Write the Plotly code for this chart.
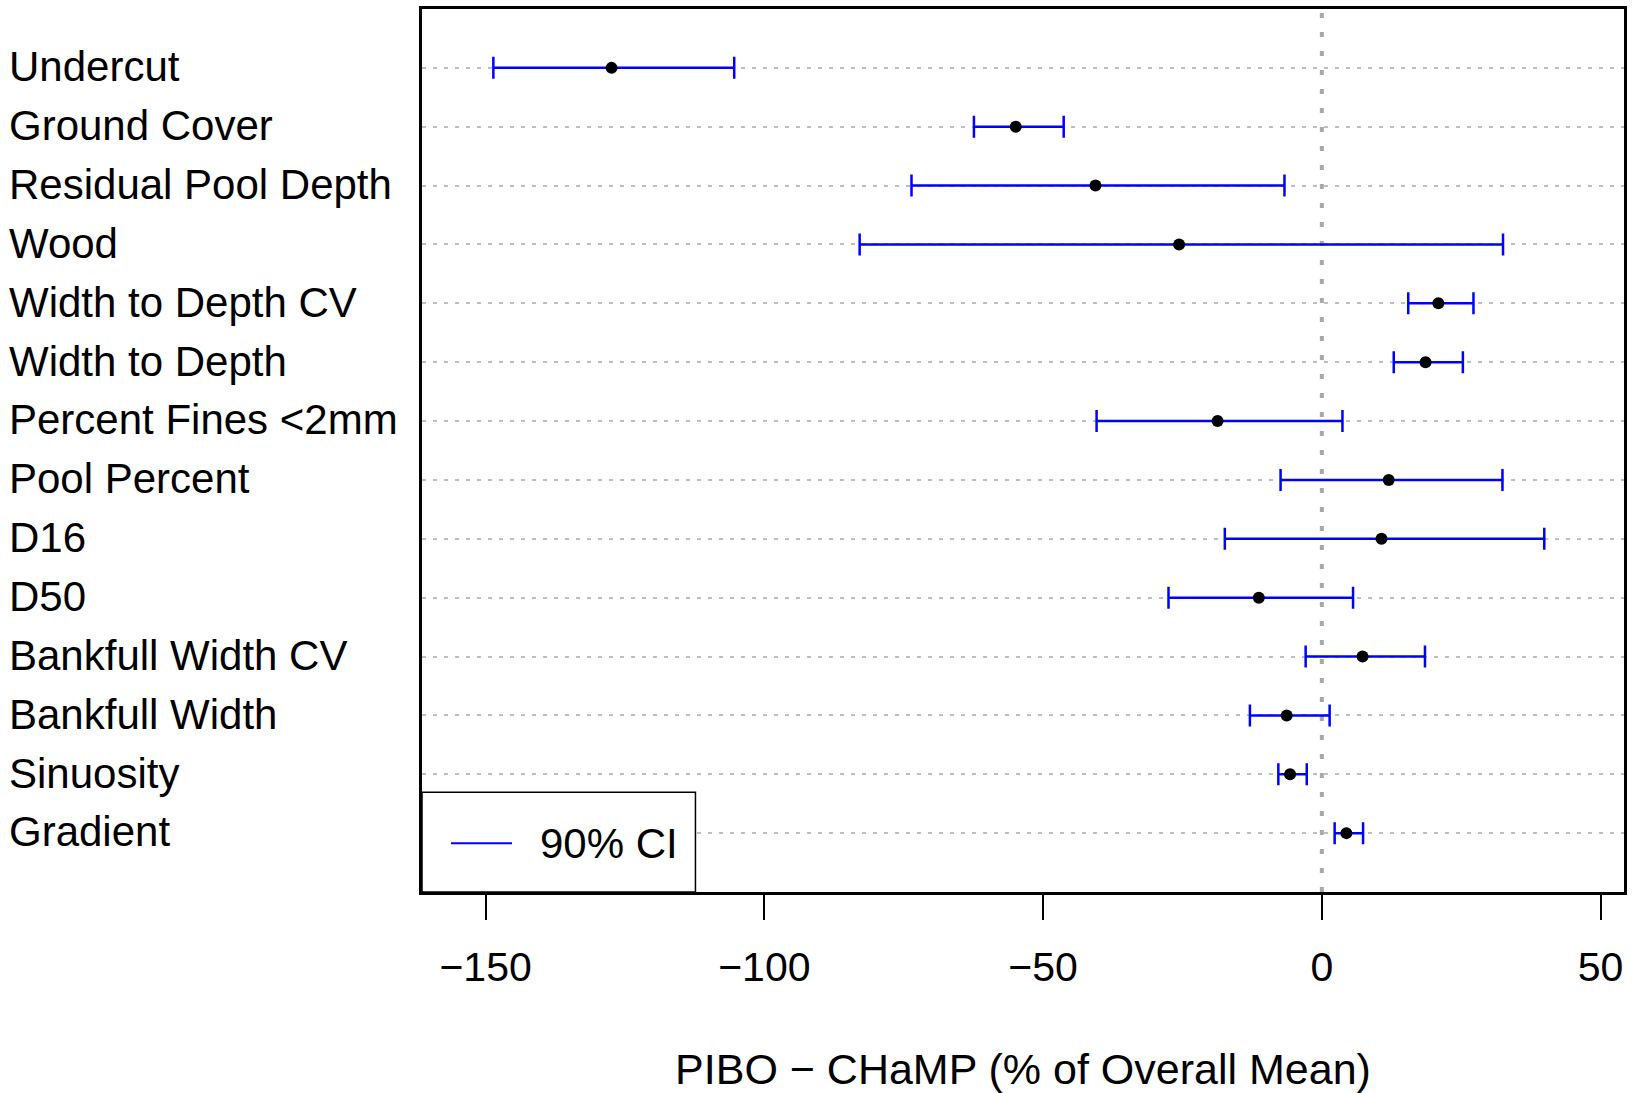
import plotly.graph_objects as go

categories = ["Undercut", "Ground Cover", "Residual Pool Depth", "Wood",
              "Width to Depth CV", "Width to Depth", "Percent Fines <2mm",
              "Pool Percent", "D16", "D50", "Bankfull Width CV",
              "Bankfull Width", "Sinuosity", "Gradient"]
estimate = [-127.4, -54.9, -40.6, -25.6, 20.9, 18.6, -18.7, 12.0, 10.7,
            -11.3, 7.3, -6.3, -5.7, 4.4]
ci_low = [-148.6, -62.4, -73.6, -82.9, 15.5, 12.9, -40.4, -7.4, -17.4,
          -27.5, -2.9, -12.9, -7.8, 2.3]
ci_high = [-105.4, -46.3, -6.7, 32.5, 27.2, 25.3, 3.7, 32.4, 39.9,
           5.6, 18.5, 1.4, -2.7, 7.4]
x_tickvals = [-150, -100, -50, 0, 50]
x_ticktext = ["\u2212150", "\u2212100", "\u221250", "0", "50"]
x_title = "PIBO \u2212 CHaMP (% of Overall Mean)"
legend_label = "90% CI"

n = len(categories)
ypos = [n - i for i in range(n)]

FONT = "Liberation Sans, Arial, Helvetica, sans-serif"
FS = 42

fig = go.Figure()
fig.add_trace(go.Scatter(
    x=estimate, y=ypos, mode="markers",
    marker=dict(color="black", size=12),
    error_x=dict(type="data", symmetric=False,
                 array=[h - e for h, e in zip(ci_high, estimate)],
                 arrayminus=[e - l for e, l in zip(estimate, ci_low)],
                 color="#0000FF", thickness=2.5, width=11),
    showlegend=False, hoverinfo="skip"))

# zero reference line
fig.add_shape(type="line", xref="x", yref="paper", x0=0, x1=0, y0=0, y1=1,
              line=dict(color="#A8A8A8", width=4, dash="5px,14px"), layer="below")

# category labels (left aligned)
for cat, y in zip(categories, ypos):
    fig.add_annotation(x=-0.345, xref="paper", y=y + 0.02, yref="y",
                       text=cat.replace("<", "&lt;"), showarrow=False,
                       xanchor="left", yanchor="middle",
                       font=dict(family=FONT, size=FS, color="black"))

# legend box
fig.add_shape(type="rect", xref="paper", yref="paper", x0=0, x1=0.2275,
              y0=0, y1=0.1129, fillcolor="white",
              line=dict(color="black", width=1.5), layer="above")
fig.add_shape(type="line", xref="paper", yref="paper", x0=0.0241, x1=0.0749,
              y0=0.0553, y1=0.0553, line=dict(color="#0000FF", width=2),
              layer="above")
fig.add_annotation(x=0.0965, xref="paper", y=0.0553, yref="paper",
                   text=legend_label, showarrow=False, xanchor="left",
                   yanchor="middle",
                   font=dict(family=FONT, size=FS, color="black"))

fig.update_layout(
    width=1642, height=1093, autosize=False,
    margin=dict(l=422, r=18, t=6, b=201),
    paper_bgcolor="white", plot_bgcolor="white",
    font=dict(family=FONT, size=FS, color="black"),
    xaxis=dict(range=[-161.4, 54.2], tickvals=x_tickvals, ticktext=x_ticktext,
               ticks="outside", ticklen=25, tickwidth=2, tickcolor="black",
               showline=True, mirror=True, linecolor="black", linewidth=2.5,
               showgrid=False, zeroline=False,
               tickfont=dict(family=FONT, size=41, color="black"),
               ticklabelstandoff=12,
               title=dict(text=x_title, standoff=66,
                          font=dict(family=FONT, size=43, color="black"))),
    yaxis=dict(range=[0, 15], tickvals=ypos, showticklabels=False, ticks="",
               showline=True, mirror=True, linecolor="black", linewidth=2.5,
               showgrid=True, gridcolor="#BEBEBE", gridwidth=2,
               griddash="4px,7px", zeroline=False),
)

fig.write_html("out.html")
